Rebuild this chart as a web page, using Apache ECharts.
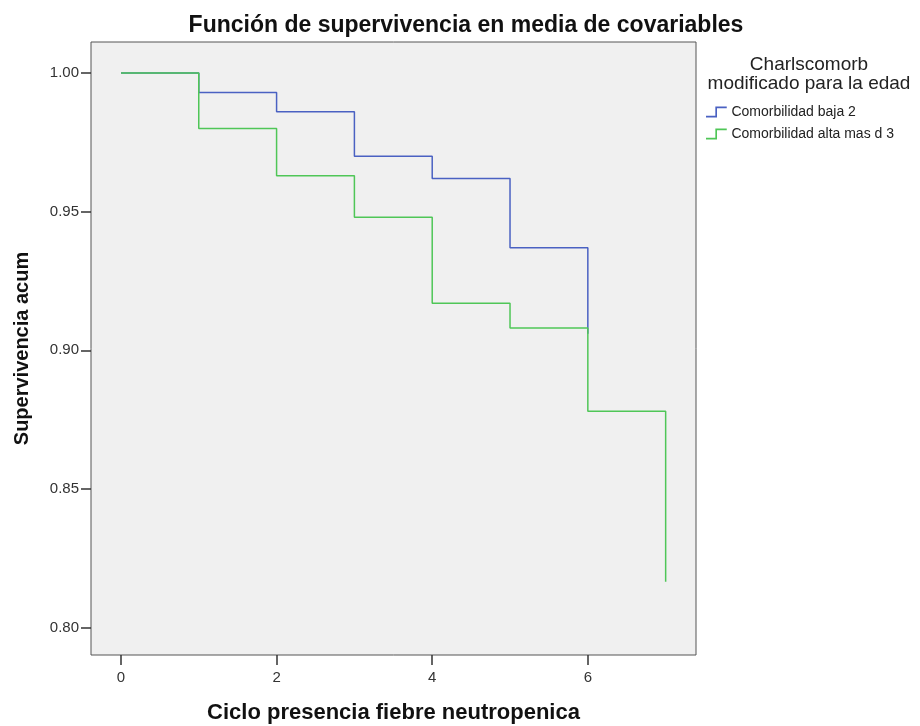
<!DOCTYPE html>
<html>
<head>
<meta charset="utf-8">
<script src="https://cdn.jsdelivr.net/npm/echarts@6/dist/echarts.min.js"></script>
<style>
html,body{margin:0;padding:0;background:#fff;}
#chart{width:920px;height:726px;}
</style>
</head>
<body>
<div id="chart"></div>
<script>
var times = [0, 1, 2, 3, 4, 5, 6, 7];
var bajaSurv = [1.000, 0.993, 0.986, 0.970, 0.962, 0.937, 0.906];
var altaSurv = [1.000, 0.980, 0.963, 0.948, 0.917, 0.908, 0.878, 0.8165];
var xTicks = [0, 2, 4, 6];
var yTicks = [0.80, 0.85, 0.90, 0.95, 1.00];
var seriesNames = ['Comorbilidad baja 2', 'Comorbilidad alta mas d 3'];
var legendTitle = ['Charlscomorb', 'modificado para la edad'];

function pairs(vals) {
  return vals.map(function (v, i) { return [times[i], v]; });
}

var font = '"Liberation Sans", Arial, sans-serif';
var stepIcon = 'path://M0,9 L9,9 L9,0 L20,0 L20,1.6 L10.6,1.6 L10.6,10.6 L0,10.6 Z';

var chart = echarts.init(document.getElementById('chart'));
chart.setOption({
  animation: false,
  backgroundColor: '#ffffff',
  title: {
    text: 'Función de supervivencia en media de covariables',
    left: 461, top: 9, textAlign: 'center',
    textStyle: { fontFamily: font, fontSize: 23, fontWeight: 'bold', color: '#111' }
  },
  grid: {
    left: 91, right: 224, top: 42, bottom: 71,
    outerBoundsMode: 'none',
    show: true, backgroundColor: '#f0f0f0', borderColor: '#555', borderWidth: 1
  },
  legend: {
    orient: 'vertical', left: 701, top: 100,
    itemWidth: 28, itemHeight: 11, itemGap: 8,
    icon: stepIcon,
    textStyle: { fontFamily: font, fontSize: 14, color: '#222', padding: [0, 0, 0, -4] },
    data: seriesNames
  },
  graphic: [
    { type: 'text', x: 809, y: 55, style: { text: legendTitle[0], fontFamily: font, fontSize: 19, fill: '#222', align: 'center' } },
    { type: 'text', x: 809, y: 74, style: { text: legendTitle[1], fontFamily: font, fontSize: 19, fill: '#222', align: 'center' } }
  ],
  xAxis: {
    type: 'value', min: -0.385, max: 7.39,
    name: 'Ciclo presencia fiebre neutropenica', nameLocation: 'middle', nameGap: 47,
    nameTextStyle: { fontFamily: font, fontSize: 22, fontWeight: 'bold', color: '#111' },
    axisLine: { show: false, onZero: false },
    splitLine: { show: false },
    axisTick: { show: true, inside: false, length: 10, lineStyle: { color: '#333', width: 1.5 }, customValues: xTicks },
    axisLabel: { customValues: xTicks, fontFamily: font, fontSize: 15, color: '#333', margin: 15 }
  },
  yAxis: {
    type: 'value', min: 0.7901, max: 1.0112,
    name: 'Supervivencia acum', nameLocation: 'middle', nameGap: 59,
    nameTextStyle: { fontFamily: font, fontSize: 20, fontWeight: 'bold', color: '#111' },
    axisLine: { show: false, onZero: false },
    splitLine: { show: false },
    axisTick: { show: true, inside: false, length: 10, lineStyle: { color: '#333', width: 1.5 }, customValues: yTicks },
    axisLabel: {
      customValues: yTicks, fontFamily: font, fontSize: 15, color: '#333', margin: 12,
      formatter: function (v) { return v.toFixed(2); }
    }
  },
  series: [
    {
      name: seriesNames[0], type: 'line', step: 'end', data: pairs(bajaSurv),
      symbol: 'none', lineStyle: { color: '#4a61c2', width: 1.5 }, itemStyle: { color: '#4a61c2' }
    },
    {
      name: seriesNames[1], type: 'line', step: 'end', data: pairs(altaSurv),
      symbol: 'none', lineStyle: { color: '#4fc657', width: 1.5 }, itemStyle: { color: '#4fc657' }
    }
  ]
});
</script>
</body>
</html>
